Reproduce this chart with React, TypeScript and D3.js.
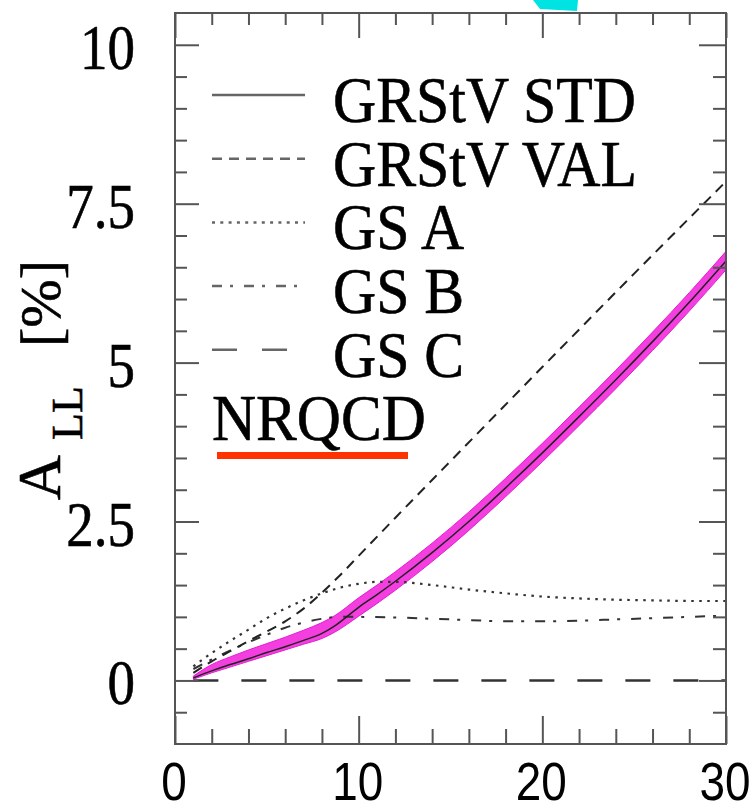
import React, { useEffect, useRef } from 'react';
import * as d3 from 'd3';

// NRQCD / GRStV STD central curve and its uncertainty band
const stdX = [1, 2, 3, 4, 5, 6, 7, 8, 8.7, 10, 11, 12, 14, 16, 18, 20, 22, 24, 26, 28, 30];
const stdY = [0.04, 0.15, 0.25, 0.34, 0.44, 0.53, 0.63, 0.74, 0.86, 1.15, 1.35, 1.56, 2.01, 2.5, 3.03, 3.58, 4.15, 4.73, 5.33, 5.95, 6.6];
const bandHi = [0.07, 0.25, 0.37, 0.48, 0.58, 0.68, 0.79, 0.91, 1.02, 1.3, 1.5, 1.71, 2.16, 2.65, 3.18, 3.73, 4.3, 4.88, 5.48, 6.1, 6.75];
const bandLo = [0.02, 0.12, 0.21, 0.3, 0.39, 0.48, 0.57, 0.66, 0.76, 1.01, 1.21, 1.42, 1.87, 2.36, 2.89, 3.44, 4.01, 4.59, 5.19, 5.81, 6.46];

const valX = [1, 2, 3, 4, 5, 6, 7, 8, 9, 10, 12, 15, 20, 25, 30];
const valY = [0.12, 0.3, 0.46, 0.62, 0.77, 0.93, 1.13, 1.38, 1.66, 1.96, 2.56, 3.45, 4.93, 6.4, 7.85];

const gsAX = [1, 1.5, 2, 3, 4, 5, 6, 7, 8, 9, 10, 11, 12, 14, 16, 18, 20, 22, 24, 26, 28, 30];
const gsAY = [0.22, 0.33, 0.43, 0.62, 0.8, 0.98, 1.13, 1.26, 1.37, 1.46, 1.52, 1.55, 1.55, 1.5, 1.43, 1.37, 1.32, 1.29, 1.27, 1.26, 1.25, 1.25];

const gsBX = [1, 2, 3, 4, 5, 6, 7, 8, 9, 10, 12, 14, 16, 18, 20, 22, 24, 26, 28, 30];
const gsBY = [0.18, 0.33, 0.47, 0.6, 0.72, 0.83, 0.91, 0.97, 1.0, 1.0, 0.99, 0.97, 0.95, 0.93, 0.93, 0.94, 0.96, 0.98, 1.0, 1.02];

const gsCX = [1, 30];
const gsCY = [0, 0];

const legendLabels = ['GRStV STD', 'GRStV VAL', 'GS A', 'GS B', 'GS C'];
const xMajor = [0, 10, 20, 30];
const xMinor = [2, 4, 6, 8, 12, 14, 16, 18, 22, 24, 26, 28];
const yMajor = [0, 2.5, 5, 7.5, 10];
const yMinor = [-0.5, 0.5, 1, 1.5, 2, 3, 3.5, 4, 4.5, 5.5, 6, 6.5, 7, 8, 8.5, 9, 9.5];
const xTickLabels = ['0', '10', '20', '30'];
const yTickLabels = ['0', '2.5', '5', '7.5', '10'];

const App = () => {
    const ref = useRef(null);

    useEffect(() => {
        const svg = d3.select(ref.current);
        svg.selectAll('*').remove();

        const x = d3.scaleLinear().domain([0, 30]).range([175, 726]);
        const y = d3.scaleLinear().domain([-1, 10.5]).range([744, 13]);
        const axisColor = '#555';
        const serif = '"Liberation Serif", "Times New Roman", serif';

        // cyan blob from the neighbouring figure, cut at the top
        svg.append('polygon')
            .attr('points', '533,0 578,0 577,11 540,9')
            .attr('fill', '#00e3e3');

        // band
        const zipped = stdX.map((v, i) => ({ x: v, lo: bandLo[i], hi: bandHi[i] }));
        const area = d3.area()
            .x((d) => x(d.x))
            .y0((d) => y(d.lo))
            .y1((d) => y(d.hi))
            .curve(d3.curveMonotoneX);
        svg.append('path').attr('d', area(zipped))
            .attr('fill', '#f43ee0')
            .attr('stroke', '#e020d0')
            .attr('stroke-width', 1);

        const line = d3.line()
            .x((d) => x(d[0]))
            .y((d) => y(d[1]))
            .curve(d3.curveMonotoneX);
        const curve = (xs, ys, dash, width, color) => {
            svg.append('path')
                .attr('d', line(xs.map((v, i) => [v, ys[i]])))
                .attr('fill', 'none')
                .attr('stroke', color)
                .attr('stroke-width', width)
                .attr('stroke-dasharray', dash);
        };
        curve(gsCX, gsCY, '25,23', 2.5, '#333');
        curve(gsAX, gsAY, '2.5,5.5', 2.2, '#333');
        curve(gsBX, gsBY, '10,8,3,11', 2, '#333');
        curve(valX, valY, '10,7', 2, '#222');
        curve(stdX, stdY, null, 1.5, '#222');

        // frame + ticks
        svg.append('rect')
            .attr('x', 175).attr('y', 13)
            .attr('width', 551).attr('height', 731)
            .attr('fill', 'none')
            .attr('stroke', axisColor)
            .attr('stroke-width', 2);

        const drawTicks = (axis, transform, values, size) => {
            const g = svg.append('g')
                .attr('transform', transform)
                .call(axis.tickValues(values).tickSize(size).tickFormat(() => ''));
            g.select('.domain').remove();
            g.selectAll('text').remove();
            g.selectAll('line').attr('stroke', axisColor).attr('stroke-width', 2);
        };
        drawTicks(d3.axisRight(y), 'translate(175,0)', yMajor, 24);
        drawTicks(d3.axisRight(y), 'translate(175,0)', yMinor, 12);
        drawTicks(d3.axisLeft(y), 'translate(726,0)', yMajor, 27);
        drawTicks(d3.axisLeft(y), 'translate(726,0)', yMinor, 13);
        drawTicks(d3.axisBottom(x), 'translate(0,13)', xMajor, 25);
        drawTicks(d3.axisBottom(x), 'translate(0,13)', xMinor, 12);
        drawTicks(d3.axisTop(x), 'translate(0,744)', xMajor, 28);
        drawTicks(d3.axisTop(x), 'translate(0,744)', xMinor, 15);

        // tick labels
        yMajor.forEach((v, i) => {
            svg.append('text')
                .attr('transform', `translate(135,${y(v) + 24}) scale(0.86,1)`)
                .attr('text-anchor', 'end')
                .attr('font-family', serif)
                .attr('font-size', 64)
                .attr('fill', '#000')
                .attr('stroke', '#000')
                .attr('stroke-width', 0.6)
                .text(yTickLabels[i]);
        });
        xMajor.forEach((v, i) => {
            svg.append('text')
                .attr('transform', `translate(${x(v) - 1},800) scale(0.85,1)`)
                .attr('text-anchor', 'middle')
                .attr('font-family', '"Liberation Sans", Arial, sans-serif')
                .attr('font-size', 54)
                .attr('fill', '#000')
                .text(xTickLabels[i]);
        });

        // y axis title
        const rotText = (tx, ty, size, str) => svg.append('text')
            .attr('transform', `translate(${tx},${ty}) rotate(-90)`)
            .attr('font-family', serif)
            .attr('font-size', size)
            .attr('fill', '#000')
            .attr('stroke', '#000')
            .attr('stroke-width', 0.6)
            .text(str);
        rotText(60, 500, 62, 'A');
        rotText(82, 440, 44, 'LL');
        rotText(60, 347, 58, '[%]');

        // legend
        const legendDash = [null, '10,7', '3,5.3', '10,8,3,11', '25,25'];
        legendLabels.forEach((label, i) => {
            const ly = 95 + i * 63.7;
            svg.append('line')
                .attr('x1', 212).attr('x2', 305)
                .attr('y1', ly).attr('y2', ly)
                .attr('stroke', '#666')
                .attr('stroke-width', 2.5)
                .attr('stroke-dasharray', legendDash[i]);
            svg.append('text')
                .attr('transform', `translate(333,${ly + 27}) scale(0.92,1)`)
                .attr('font-family', serif)
                .attr('font-size', 65)
                .attr('fill', '#000')
                .attr('stroke', '#000')
                .attr('stroke-width', 0.6)
                .text(label);
        });
        svg.append('text')
            .attr('transform', 'translate(212,440) scale(0.94,1)')
            .attr('font-family', serif)
            .attr('font-size', 65)
            .attr('fill', '#000')
            .attr('stroke', '#000')
            .attr('stroke-width', 0.6)
            .text('NRQCD');
        svg.append('rect')
            .attr('x', 217).attr('y', 452)
            .attr('width', 191).attr('height', 7)
            .attr('fill', '#ff3300');
    }, []);

    return (
        <svg ref={ref} width={755} height={809}
            style={{ position: 'absolute', left: 0, top: 0, background: '#fff' }} />
    );
};

export default App;
